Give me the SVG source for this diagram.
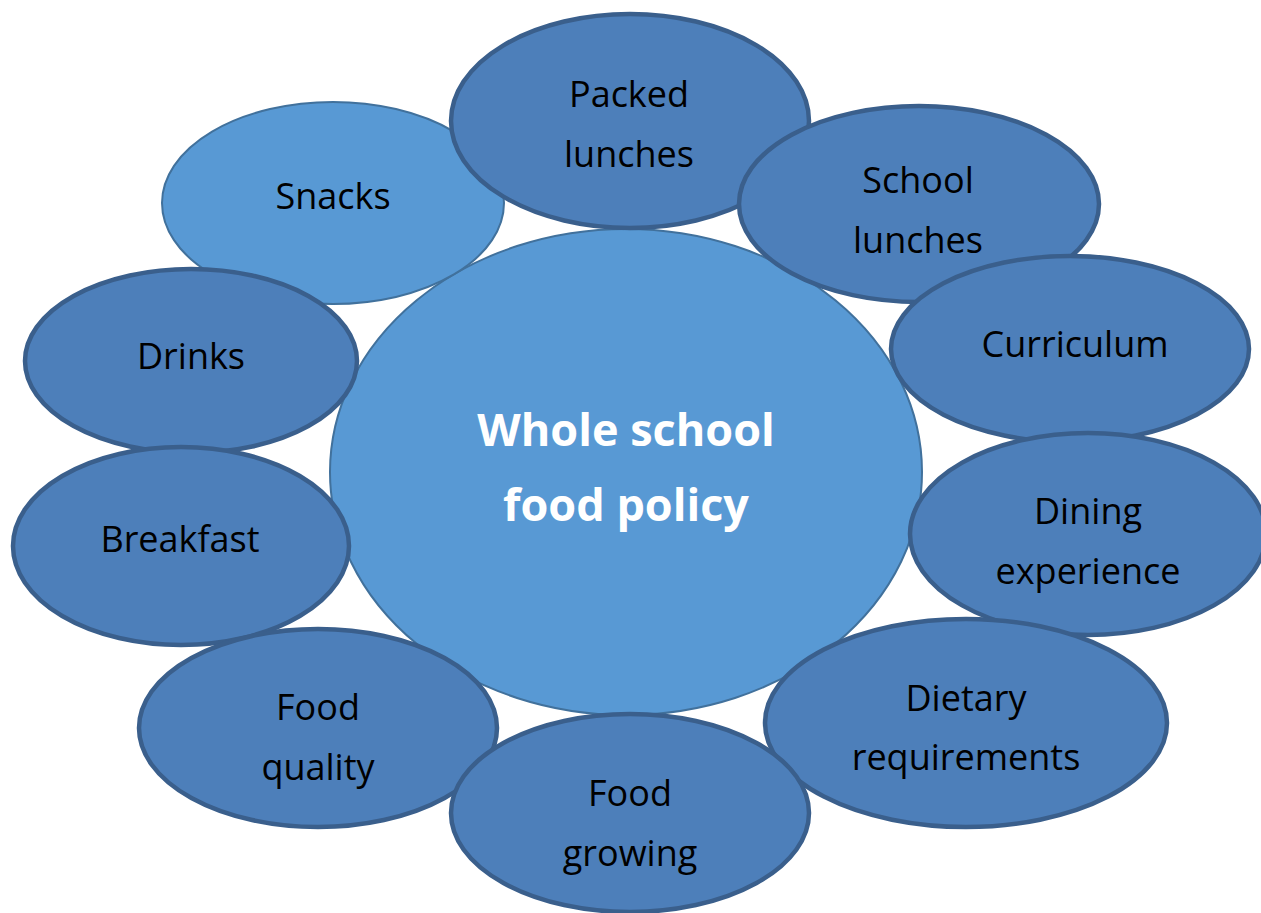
<svg xmlns="http://www.w3.org/2000/svg" width="1261" height="913" viewBox="0 0 1261 913">
<style>
.light{fill:#5899D4;stroke:#41719C;stroke-width:2}
.dark{fill:#4D7FBA;stroke:#3A5F8C;stroke-width:4.5}
.lbl{font-family:"Open Sans","Noto Sans",sans-serif;font-size:36px;fill:#000;text-anchor:middle}
.ctr{font-family:"Open Sans","Noto Sans",sans-serif;font-size:45px;font-weight:bold;fill:#fff;text-anchor:middle}
</style>
<rect width="1261" height="913" fill="#fff"/>
<g id="connectors"></g>
<g id="center"><ellipse class="light" cx="626" cy="472" rx="296" ry="243"/><text class="ctr" x="626" y="446">Whole school</text><text class="ctr" x="626" y="521">food policy</text></g>
<g id="snacks"><ellipse class="light" cx="333" cy="203" rx="171" ry="101"/><text class="lbl" x="333" y="209">Snacks</text></g>
<g id="packed"><ellipse class="dark" cx="630" cy="121" rx="179" ry="107"/><text class="lbl" x="629" y="107">Packed</text><text class="lbl" x="629" y="167">lunches</text></g>
<g id="school"><ellipse class="dark" cx="919" cy="204" rx="180" ry="98"/><text class="lbl" x="918" y="193">School</text><text class="lbl" x="918" y="253">lunches</text></g>
<g id="curriculum"><ellipse class="dark" cx="1070" cy="349" rx="179" ry="93"/><text class="lbl" x="1075" y="357">Curriculum</text></g>
<g id="dining"><ellipse class="dark" cx="1088" cy="534" rx="178" ry="101"/><text class="lbl" x="1088" y="524">Dining</text><text class="lbl" x="1088" y="584">experience</text></g>
<g id="dietary"><ellipse class="dark" cx="966" cy="723" rx="201" ry="104"/><text class="lbl" x="966" y="711">Dietary</text><text class="lbl" x="966" y="770">requirements</text></g>
<g id="drinks"><ellipse class="dark" cx="191" cy="361" rx="166" ry="92"/><text class="lbl" x="191" y="369">Drinks</text></g>
<g id="breakfast"><ellipse class="dark" cx="181" cy="546" rx="168" ry="99"/><text class="lbl" x="180" y="552">Breakfast</text></g>
<g id="quality"><ellipse class="dark" cx="318" cy="728" rx="179" ry="99"/><text class="lbl" x="318" y="720">Food</text><text class="lbl" x="318" y="780">quality</text></g>
<g id="growing"><ellipse class="dark" cx="630" cy="813" rx="179" ry="99"/><text class="lbl" x="630" y="806">Food</text><text class="lbl" x="630" y="866">growing</text></g>
</svg>
